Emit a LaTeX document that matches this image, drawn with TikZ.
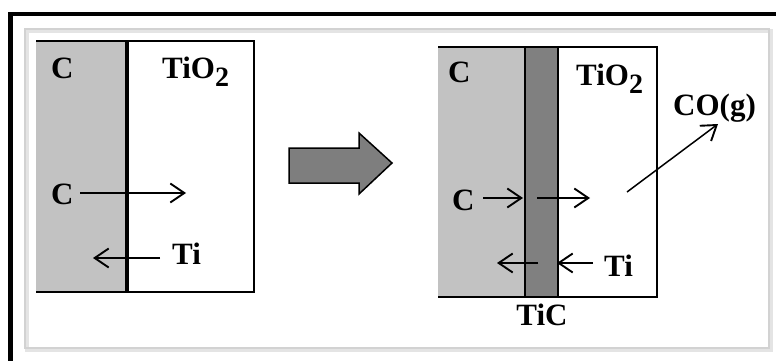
\documentclass[tikz,border=0pt]{standalone}
\usepackage{fontspec}
\setmainfont{Liberation Serif}
\usetikzlibrary{arrows.meta}
\definecolor{carbon}{HTML}{C2C2C2}
\definecolor{carbide}{HTML}{808080}
\definecolor{blockgray}{HTML}{7E7E7E}
\definecolor{panelshade}{HTML}{D2D2D2}
\newcommand{\subtwo}{\raisebox{-8pt}{\fontsize{28}{28}\selectfont 2}}
\begin{document}
\begin{tikzpicture}[x=1pt,y=-1pt,
  lbl/.style={font=\fontsize{31}{33}\selectfont\bfseries, inner sep=0pt, anchor=base west},
  flux/.style={line width=1.9pt, -{Straight Barb[length=14pt,width=19pt,line width=1.9pt]}},
  rim/.style={line width=2.5pt},
  interface/.style={line width=2.5pt},
]
\useasboundingbox (0,0) rectangle (776,361);
\fill[white] (0,0) rectangle (776,361);

% black frame on top and left
\fill[black] (8,12) rectangle (776,16.5);
\fill[black] (8,12) rectangle (13,361);

% shaded panel
\draw[panelshade!60, line width=4pt] (27,31) rectangle (771,350);
\draw[panelshade, line width=2pt] (25,29) rectangle (769,348);

% ---- before: carbon against TiO2 ----
\fill[carbon] (36,41) rectangle (127,292);
\draw[rim] (36,41) -- (254,41) -- (254,292) -- (36,292);
\draw[line width=4pt] (127,41) -- (127,292);

\node[lbl] (cTopA) at (51,78) {C};
\node[lbl] (oxA) at (162,78) {TiO\subtwo};
\node[lbl] (cMidA) at (51,204) {C};
\node[lbl] (tiA) at (172,264) {Ti};

\coordinate (cA0) at (80,193);
\coordinate (cA1) at (186,193);
\coordinate (tA0) at (160,258);
\coordinate (tA1) at (93,258);
\draw[flux] (cA0) -- (cA1);
\draw[flux] (tA0) -- (tA1);

% ---- block arrow ----
\draw[fill=blockgray, line width=1.5pt, line join=miter]
  (289,148) -- (359,148) -- (359,133) -- (392,163) -- (359,194) -- (359,183) -- (289,183) -- cycle;

% ---- after: TiC layer between C and TiO2 ----
\fill[carbon] (438,47) rectangle (525,297);
\fill[carbide] (525,47) rectangle (558,297);
\draw[rim] (438,47) -- (657,47) -- (657,297) -- (438,297);
\draw[interface] (525,47) -- (525,297);
\draw[interface] (558,47) -- (558,297);

\node[lbl] (cTopB) at (448,82) {C};
\node[lbl] (oxB) at (576,85) {TiO\subtwo};
\node[lbl] (coB) at (673,115) {CO(g)};
\node[lbl] (cMidB) at (452,210) {C};
\node[lbl] (tiB) at (604,276) {Ti};
\node[lbl, anchor=base] (ticB) at (542,325) {TiC};

\coordinate (cB0) at (483,198);
\coordinate (cB1) at (523,198);
\coordinate (cB2) at (537,198);
\coordinate (cB3) at (590,198);
\coordinate (tB0) at (538,263);
\coordinate (tB1) at (497,263);
\coordinate (tB2) at (593,263);
\coordinate (tB3) at (557,263);
\coordinate (gB0) at (627,192);
\coordinate (gB1) at (718,124);
\draw[flux] (cB0) -- (cB1);
\draw[flux] (cB2) -- (cB3);
\draw[flux] (tB0) -- (tB1);
\draw[flux] (tB2) -- (tB3);
\draw[flux, line width=1.5pt] (gB0) -- (gB1);
\end{tikzpicture}
\end{document}
